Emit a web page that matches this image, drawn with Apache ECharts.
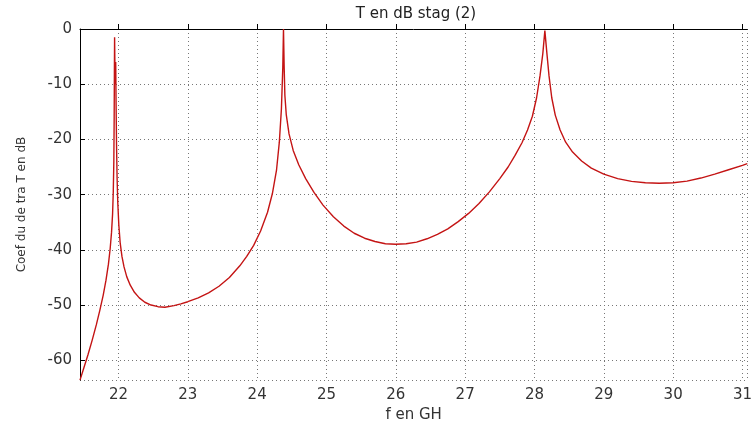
<!DOCTYPE html>
<html>
<head>
<meta charset="utf-8">
<script src="https://cdn.jsdelivr.net/npm/echarts@6/dist/echarts.min.js"></script>
<style>
html,body{margin:0;padding:0;background:#fff;}
#chart{width:755px;height:428px;}
</style>
</head>
<body>
<div id="chart"></div>
<script>
const chartTitle = 'T en dB stag (2)';
const xName = 'f en GH';
const yName = 'Coef du de tra T en dB';
const freq = [21.445,21.5,21.56,21.62,21.68,21.73,21.78,21.82,21.855,21.88,21.9,21.915,21.925,21.933,21.938,21.941,21.944,21.948,21.952,21.956,21.96,21.965,21.972,21.98,21.99,22.005,22.025,22.05,22.08,22.12,22.17,22.23,22.3,22.38,22.47,22.57,22.67,22.8,22.9,23.0,23.15,23.3,23.45,23.6,23.75,23.85,23.95,24.05,24.15,24.22,24.28,24.32,24.35,24.37,24.38,24.39,24.40,24.42,24.46,24.52,24.6,24.7,24.82,24.95,25.1,25.25,25.4,25.55,25.7,25.85,26.0,26.15,26.3,26.45,26.6,26.75,26.9,27.05,27.2,27.35,27.5,27.62,27.72,27.82,27.9,27.97,28.03,28.08,28.12,28.15,28.18,28.21,28.25,28.3,28.37,28.45,28.55,28.68,28.82,29.0,29.2,29.4,29.6,29.8,30.0,30.2,30.4,30.6,30.8,31.0,31.07];
const tdb = [-63.6,-61.4,-59.0,-56.4,-53.6,-51.0,-48.2,-45.5,-42.6,-39.8,-36.8,-33.5,-29.5,-24,-16,-8,-1.5,-6,-10,-7,-6,-13,-21,-27,-31.5,-35.5,-38.8,-41.2,-43.1,-44.9,-46.4,-47.7,-48.7,-49.5,-50.0,-50.3,-50.4,-50.1,-49.8,-49.4,-48.7,-47.8,-46.6,-45.0,-42.9,-41.2,-39.2,-36.6,-33.2,-29.8,-25.5,-20.5,-14.5,-7,0,-7,-12,-15.5,-19,-22,-24.6,-27.1,-29.6,-31.9,-34.0,-35.7,-37.0,-37.9,-38.5,-38.9,-39.0,-38.9,-38.6,-38.0,-37.2,-36.2,-34.9,-33.4,-31.6,-29.5,-27.1,-25.0,-22.9,-20.6,-18.3,-15.8,-12.5,-8.5,-4.5,-0.3,-4.5,-8.5,-12.5,-15.6,-18.3,-20.5,-22.3,-23.9,-25.2,-26.3,-27.1,-27.6,-27.85,-27.95,-27.85,-27.55,-27.0,-26.3,-25.5,-24.7,-24.4];

const chart = echarts.init(document.getElementById('chart'), null, {renderer:'canvas'});
const font = 'DejaVu Sans';
chart.setOption({
  animation:false,
  backgroundColor:'#fff',
  graphic:[{type:'text', x:416, y:7, style:{text:chartTitle, font:'15px "DejaVu Sans"', fill:'#222', textAlign:'center'}}],
  grid:{left:80, right:0, top:29, bottom:41},
  xAxis:{
    type:'value', min:21.445, max:31.07, minInterval:1, maxInterval:1,
    name:xName, nameLocation:'middle', nameGap:27,
    nameTextStyle:{fontFamily:font, fontSize:15, color:'#333'},
    axisLine:{lineStyle:{color:'#000', width:1}},
    axisTick:{inside:true, length:5, lineStyle:{color:'#000'}},
    axisLabel:{showMinLabel:false, showMaxLabel:false, fontFamily:font, fontSize:15, color:'#333', margin:8},
    splitLine:{show:true, lineStyle:{color:'#777', type:[1,3], width:1}}
  },
  yAxis:{
    type:'value', min:-63.6, max:0, minInterval:10, maxInterval:10,
    name:yName, nameLocation:'middle', nameGap:52, nameRotate:90,
    nameTextStyle:{fontFamily:font, fontSize:12, color:'#333'},
    axisLine:{show:true, lineStyle:{color:'#000', width:1}},
    axisTick:{show:true, inside:true, length:5, lineStyle:{color:'#000'}},
    axisLabel:{showMinLabel:false, fontFamily:font, fontSize:15, color:'#333', margin:8},
    splitLine:{show:true, lineStyle:{color:'#777', type:[1,3], width:1}}
  },
  series:[{
    type:'line', showSymbol:false, symbol:'none',
    data: freq.map((f,i)=>[f, tdb[i]]),
    lineStyle:{color:'#c41414', width:1.4},
    smooth:false
  }]
});
</script>
</body>
</html>
